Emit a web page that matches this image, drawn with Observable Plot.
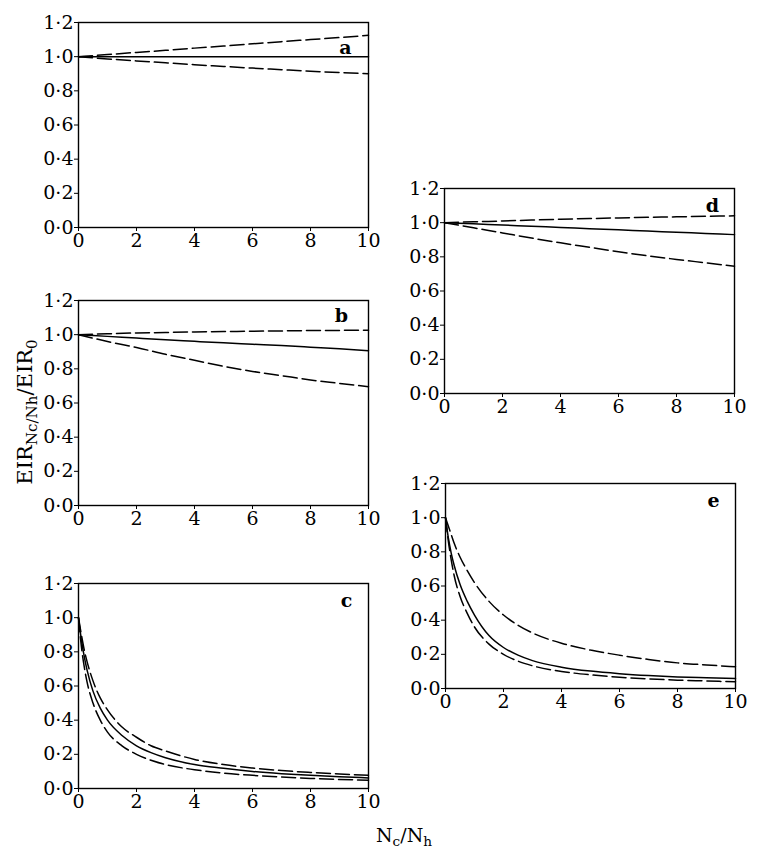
<!DOCTYPE html>
<html><head><meta charset="utf-8">
<script src="https://cdn.jsdelivr.net/npm/d3@7"></script>
<script src="https://cdn.jsdelivr.net/npm/@observablehq/plot@0.6"></script>
<style>
body{margin:0;background:#fff;}
#wrap{position:relative;width:759px;height:859px;background:#fff;font-family:"DejaVu Serif","Liberation Serif",serif;color:#000;overflow:hidden;}
.panel{position:absolute;}
#ylab{position:absolute;left:25px;top:412px;transform:translate(-50%,-50%) rotate(-90deg);font-size:21px;white-space:nowrap;}
#xlab{position:absolute;left:404px;top:824px;transform:translateX(-50%);font-size:19px;white-space:nowrap;}
sub{font-size:0.72em;vertical-align:-0.32em;line-height:0;}
</style></head>
<body><div id="wrap"><div id="ylab">EIR<sub>Nc/Nh</sub>/EIR<sub>0</sub></div><div id="xlab">N<sub>c</sub>/N<sub>h</sub></div></div>
<script>
// ---- tick labels & categories ----
const xTicks = [0, 2, 4, 6, 8, 10];
const yTicks = [0, 0.2, 0.4, 0.6, 0.8, 1.0, 1.2];
const panelLabels = ["a", "b", "c", "d", "e"];

// ---- x values ----
const xLin = [0, 1, 2, 3, 4, 5, 6, 7, 8, 9, 10];
const xCurve = [0, 0.1, 0.2, 0.3, 0.5, 0.75, 1, 1.5, 2, 2.5, 3, 4, 5, 6, 7, 8, 9, 10];

// ---- panel a ----
const aUpper = [1.000, 1.012, 1.025, 1.037, 1.050, 1.062, 1.075, 1.088, 1.100, 1.112, 1.125];
const aSolid = [1.000, 1.000, 1.000, 1.000, 1.000, 1.000, 1.000, 1.000, 1.000, 1.000, 1.000];
const aLower = [1.000, 0.987, 0.975, 0.964, 0.953, 0.943, 0.933, 0.924, 0.915, 0.907, 0.900];

// ---- panel b ----
const bUpper = [1.000, 1.005, 1.010, 1.013, 1.016, 1.018, 1.020, 1.022, 1.024, 1.025, 1.026];
const bSolid = [1.000, 0.990, 0.980, 0.970, 0.961, 0.952, 0.944, 0.936, 0.927, 0.918, 0.906];
const bLower = [1.000, 0.960, 0.925, 0.885, 0.850, 0.815, 0.785, 0.760, 0.735, 0.715, 0.695];

// ---- panel c ----
const cUpper = [1.0, 0.90, 0.81, 0.74, 0.63, 0.53, 0.46, 0.36, 0.30, 0.25, 0.22, 0.17, 0.14, 0.12, 0.105, 0.094, 0.085, 0.077];
const cSolid = [1.0, 0.87, 0.77, 0.69, 0.57, 0.47, 0.40, 0.31, 0.25, 0.21, 0.18, 0.14, 0.118, 0.10, 0.087, 0.077, 0.069, 0.062];
const cLower = [1.0, 0.83, 0.71, 0.62, 0.50, 0.40, 0.33, 0.25, 0.20, 0.165, 0.14, 0.11, 0.09, 0.077, 0.067, 0.059, 0.053, 0.048];

// ---- panel d ----
const dUpper = [1.000, 1.005, 1.010, 1.015, 1.020, 1.024, 1.028, 1.031, 1.034, 1.037, 1.040];
const dSolid = [1.000, 0.993, 0.986, 0.979, 0.972, 0.965, 0.958, 0.951, 0.944, 0.937, 0.930];
const dLower = [1.000, 0.970, 0.940, 0.910, 0.882, 0.856, 0.830, 0.806, 0.785, 0.765, 0.745];

// ---- panel e ----
const eUpper = [1.0, 0.95, 0.90, 0.85, 0.77, 0.69, 0.62, 0.51, 0.43, 0.37, 0.325, 0.265, 0.225, 0.195, 0.17, 0.15, 0.138, 0.127];
const eSolid = [1.0, 0.88, 0.79, 0.72, 0.61, 0.51, 0.43, 0.31, 0.24, 0.195, 0.163, 0.125, 0.102, 0.087, 0.076, 0.068, 0.063, 0.059];
const eLower = [1.0, 0.86, 0.75, 0.66, 0.54, 0.44, 0.36, 0.26, 0.20, 0.16, 0.133, 0.10, 0.08, 0.066, 0.056, 0.049, 0.044, 0.039];

const panels = [
  {label: panelLabels[0], xs: xLin, series: [aUpper, aSolid, aLower], left: 78, top: 22, ldx: -23, ldy: 25},
  {label: panelLabels[1], xs: xLin, series: [bUpper, bSolid, bLower], left: 78, top: 300, ldx: -27, ldy: 15},
  {label: panelLabels[2], xs: xCurve, series: [cUpper, cSolid, cLower], left: 78, top: 583, ldx: -22, ldy: 17},
  {label: panelLabels[3], xs: xLin, series: [dUpper, dSolid, dLower], left: 444, top: 188, ldx: -22, ldy: 17},
  {label: panelLabels[4], xs: xCurve, series: [eUpper, eSolid, eLower], left: 445, top: 483, ldx: -22, ldy: 17}
];

const W = 290, H = 205, ML = 68, MR = 26, MT = 16, MB = 32;
const fmt = d => d.toFixed(1).replace(".", "\u00B7");
const wrap = document.getElementById("wrap");

for (const p of panels) {
  const dashes = ["14,5", null, "14,5"];
  const lines = p.series.map((ys, i) => Plot.line(p.xs, {
    x: p.xs, y: ys, stroke: "#000", strokeWidth: 1.5,
    strokeDasharray: dashes[i] || undefined, curve: "monotone-x"
  }));
  const chart = Plot.plot({
    width: ML + W + MR,
    height: MT + H + MB,
    marginLeft: ML, marginRight: MR, marginTop: MT, marginBottom: MB,
    style: {fontFamily: "'DejaVu Serif','Liberation Serif',serif", fontSize: "19px", color: "#000", background: "transparent", overflow: "visible"},
    x: {domain: [0, 10]},
    y: {domain: [0, 1.2]},
    marks: [
      Plot.axisX({ticks: xTicks, tickSize: 4, tickPadding: 2, tickFormat: d => String(d), label: null, fontSize: 19}),
      Plot.axisY({ticks: yTicks, tickSize: 4, tickPadding: 1, tickFormat: fmt, label: null, fontSize: 19}),
      Plot.frame({stroke: "#000", strokeWidth: 1.4}),
      ...lines,
      Plot.text([p.label], {frameAnchor: "top-right", text: d => d, dx: p.ldx, dy: p.ldy,
        textAnchor: "middle", lineAnchor: "middle", fontWeight: "bold", fontSize: 19, fill: "#000"})
    ]
  });
  chart.classList.add("panel");
  chart.style.left = (p.left - ML) + "px";
  chart.style.top = (p.top - MT) + "px";
  chart.style.position = "absolute";
  wrap.appendChild(chart);
}
</script>
</body></html>
